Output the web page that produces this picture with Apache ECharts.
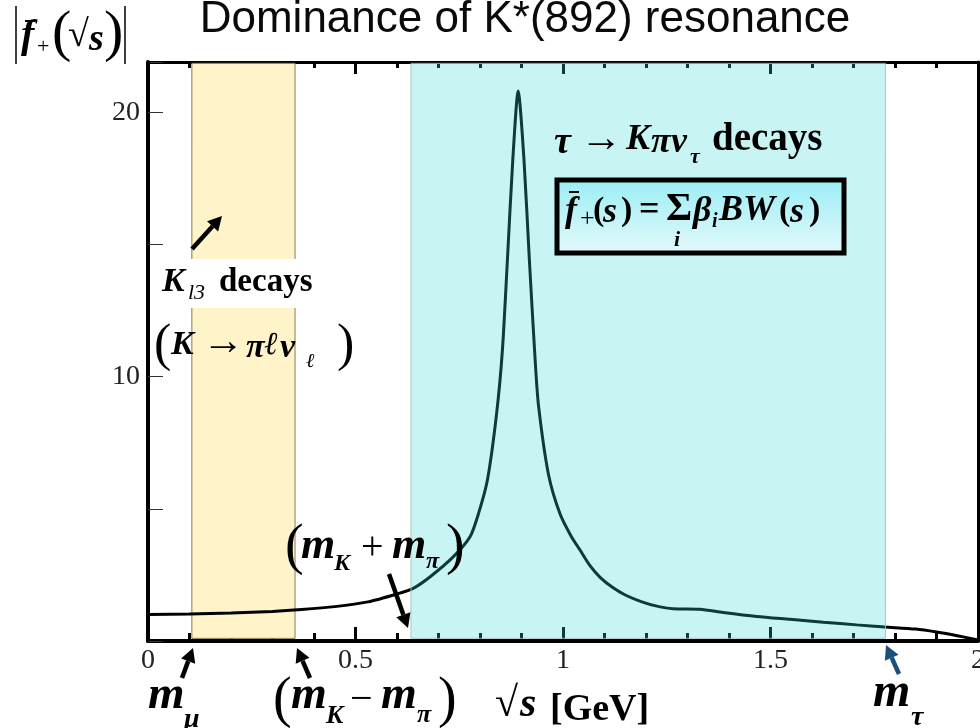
<!DOCTYPE html>
<html>
<head>
<meta charset="utf-8">
<script src="https://cdn.jsdelivr.net/npm/echarts@6/dist/echarts.min.js"></script>
<style>
  body { margin: 0; background: #fff; }
  #c { width: 980px; height: 728px; }
</style>
</head>
<body>
<div id="c"></div>
<script>
// sqrt(s) in GeV
const sqrtS = [0, 0.1, 0.2, 0.3, 0.37, 0.45, 0.53, 0.6, 0.639, 0.68, 0.736, 0.776, 0.796, 0.818, 0.84, 0.854, 0.866, 0.879, 0.892, 0.906, 0.919, 0.933, 0.941, 0.965, 0.993, 1.02, 1.041, 1.065, 1.09, 1.12, 1.15, 1.19, 1.226, 1.265, 1.33, 1.386, 1.467, 1.547, 1.627, 1.708, 1.776, 1.85, 1.9, 1.95, 2.0];
// |f+(sqrt s)|
const fPlus = [1.0, 1.02, 1.06, 1.12, 1.19, 1.3, 1.48, 1.78, 1.99, 2.43, 3.19, 3.94, 4.8, 6.1, 8.6, 11.0, 14.4, 18.2, 20.8, 18.2, 14.4, 10.6, 8.9, 6.3, 4.8, 3.95, 3.44, 2.85, 2.4, 2.02, 1.74, 1.48, 1.32, 1.22, 1.2, 1.08, 0.93, 0.82, 0.71, 0.61, 0.53, 0.45, 0.34, 0.2, 0.04];
const yLabels = [10, 20];
// shaded regions: [m_mu, mK - mpi] and [mK + mpi, m_tau]
const kl3Band = [0.1057, 0.3543];
const tauBand = [0.6336, 1.777];

const SERIF = '"Liberation Serif", "DejaVu Serif", serif';

function txt(s, x, y, size, o) {
  o = o || {};
  const font = (o.italic ? 'italic ' : '') + (o.bold === false ? '' : 'bold ') + size + 'px ' + (o.family || SERIF);
  return {
    type: 'text', z: 100,
    style: { text: s, x: x, y: y, font: font, fill: o.color || '#000',
      align: o.align || 'left', verticalAlign: 'middle',
      textAlign: o.align || 'left', textVerticalAlign: 'middle' }
  };
}
function seg(x1, y1, x2, y2, w, color) {
  return { type: 'line', z: 100, shape: { x1: x1, y1: y1, x2: x2, y2: y2 },
    style: { stroke: color || '#000', lineWidth: w } };
}
function arrow(x1, y1, x2, y2, color) {
  color = color || '#000';
  const a = Math.atan2(y2 - y1, x2 - x1);
  const L = 14, W = 7.5;
  const bx = x2 - L * Math.cos(a), by = y2 - L * Math.sin(a);
  const nx = -Math.sin(a), ny = Math.cos(a);
  return [
    seg(x1, y1, bx, by, 4.5, color),
    { type: 'polygon', z: 100, shape: { points: [[x2, y2], [bx + nx * W, by + ny * W], [bx - nx * W, by - ny * W]] },
      style: { fill: color } }
  ];
}

const graphics = [
  // title
  txt('Dominance of K*(892) resonance', 525, 20, 44, { bold: false, family: '"Liberation Sans", Arial, sans-serif', align: 'center', color: '#0a0a0a' }),
  // y axis name |f+(sqrt s)|
  seg(16, 6, 16, 64, 1.5), seg(125, 6, 125, 64, 1.5),
  txt('f', 21, 37, 40, { italic: true }),
  seg(25, 21, 35, 21, 2),
  txt('+', 37, 47, 22, { bold: false }),
  txt('(', 52, 35, 58, { bold: false }),
  txt('√', 68, 36, 38, { bold: false }),
  txt('s', 89, 40, 38, { italic: true }),
  txt(')', 104, 35, 58, { bold: false }),

  // tau decays
  txt('τ', 554, 143, 38, { italic: true }),
  txt('→', 580, 140, 42, { bold: false }),
  txt('K', 626, 140, 36, { italic: true }),
  txt('π', 651, 143, 36, { italic: true }),
  txt('ν', 671, 143, 36, { italic: true }),
  txt('τ', 690, 157, 22, { italic: true }),
  txt('decays', 712, 140, 39),
  // box with formula
  { type: 'rect', z: 99, shape: { x: 557, y: 180, width: 287, height: 73 },
    style: { fill: new echarts.graphic.LinearGradient(0, 0, 0, 1, [
      { offset: 0, color: '#98edf4' }, { offset: 1, color: '#e6fafb' }]), stroke: '#000', lineWidth: 5 } },
  txt('f', 565, 212, 36, { italic: true }),
  seg(569, 192, 579, 192, 2),
  txt('+', 580, 219, 26, { bold: false }),
  txt('(', 593, 211, 34),
  txt('s', 603, 213, 36, { italic: true }),
  txt(')', 621, 211, 34),
  txt('=', 639, 211, 36),
  txt('Σ', 666, 210, 40),
  txt('i', 674, 240, 22, { italic: true }),
  txt('β', 693, 212, 36, { italic: true }),
  txt('i', 712, 222, 20, { italic: true }),
  txt('BW', 719, 211, 36, { italic: true }),
  txt('(', 779, 211, 34),
  txt('s', 790, 213, 36, { italic: true }),
  txt(')', 809, 211, 34),

  // K_l3 decays
  { type: 'rect', z: 98, shape: { x: 158, y: 259, width: 162, height: 49 }, style: { fill: '#fff' } },
  txt('K', 162, 282, 34, { italic: true }),
  txt('l3', 188, 293, 22, { italic: true, bold: false }),
  txt('decays', 219, 282, 33),
  txt('(', 154, 346, 52, { bold: false }),
  txt('K', 171, 345, 34, { italic: true }),
  txt('→', 202, 343, 42, { bold: false }),
  txt('π', 246, 348, 34, { italic: true }),
  txt('ℓ', 264, 346, 32, { italic: true, bold: false }),
  txt('ν', 280, 348, 34, { italic: true }),
  txt('ℓ', 306, 362, 20, { italic: true, bold: false }),
  txt(')', 337, 346, 52, { bold: false }),

  // (mK + mpi)
  txt('(', 285, 548, 56, { bold: false }),
  txt('m', 301, 547, 44, { italic: true }),
  txt('K', 334, 564, 24, { italic: true }),
  txt('+', 361, 548, 40, { bold: false }),
  txt('m', 392, 547, 44, { italic: true }),
  txt('π', 426, 562, 24, { italic: true }),
  txt(')', 446, 548, 56, { bold: false }),

  // bottom labels
  txt('m', 148, 696, 47, { italic: true }),
  txt('μ', 184, 720, 28, { italic: true }),
  txt('(', 273, 701, 56, { bold: false }),
  txt('m', 291, 696, 46, { italic: true }),
  txt('K', 326, 716, 26, { italic: true }),
  txt('−', 350, 700, 40, { bold: false }),
  txt('m', 381, 696, 46, { italic: true }),
  txt('π', 417, 715, 26, { italic: true }),
  txt(')', 438, 701, 56, { bold: false }),
  txt('√', 495, 705, 42, { bold: false }),
  txt('s', 520, 705, 42, { italic: true }),
  txt('[GeV]', 550, 710, 38),
  txt('m', 873, 694, 48, { italic: true }),
  txt('τ', 911, 718, 28, { italic: true })
]
  .concat(arrow(192, 249, 222, 216))
  .concat(arrow(389, 574, 408, 628))
  .concat(arrow(182, 678, 193, 648))
  .concat(arrow(310, 678, 297, 648))
  .concat(arrow(899, 674, 886, 645, '#1b4f7e'));

const chart = echarts.init(document.getElementById('c'));
chart.setOption({
  animation: false,
  backgroundColor: '#fff',
  grid: { left: 148, right: 2, top: 62, bottom: 87, outerBoundsMode: 'none', containLabel: false },
  xAxis: [
    {
      type: 'value', min: 0, max: 2, interval: 0.5, position: 'bottom',
      axisLine: { show: true, onZero: false, lineStyle: { color: '#000', width: 4 } },
      axisTick: { show: true, inside: true, length: 14, lineStyle: { color: '#000', width: 3 } },
      minorTick: { show: true, splitNumber: 5, length: 8, lineStyle: { color: '#000', width: 3 } },
      axisLabel: { color: '#222', fontFamily: SERIF, fontSize: 28, margin: 6 },
      splitLine: { show: false }
    },
    {
      type: 'value', min: 0, max: 2, interval: 0.5, position: 'top',
      axisLine: { show: true, onZero: false, lineStyle: { color: '#000', width: 3 } },
      axisTick: { show: true, inside: true, length: 12, lineStyle: { color: '#000', width: 3 } },
      minorTick: { show: true, splitNumber: 5, length: 6, lineStyle: { color: '#000', width: 3 } },
      axisLabel: { show: false },
      splitLine: { show: false }
    }
  ],
  yAxis: [
    {
      type: 'value', min: 0, max: 21.9, interval: 5,
      axisLine: { show: true, onZero: false, lineStyle: { color: '#000', width: 4 } },
      axisTick: { show: true, inside: true, length: 15, lineStyle: { color: '#333', width: 1 } },
      axisLabel: { color: '#222', fontFamily: SERIF, fontSize: 28, margin: 8,
        formatter: v => (yLabels.indexOf(v) >= 0 ? String(v) : '') },
      splitLine: { show: false }
    },
    {
      type: 'value', min: 0, max: 21.9, position: 'right',
      axisLine: { show: true, onZero: false, lineStyle: { color: '#000', width: 3 } },
      axisTick: { show: false }, axisLabel: { show: false }, splitLine: { show: false }
    }
  ],
  series: [
    {
      type: 'line', data: [], z: 1, silent: true,
      markArea: {
        silent: true, z: 1,
        itemStyle: { color: '#fff4c9', borderColor: '#8c7b4e', borderWidth: 1 },
        data: [[{ xAxis: kl3Band[0], yAxis: 0.1 }, { xAxis: kl3Band[1], yAxis: 21.85 }]]
      }
    },
    {
      type: 'line', z: 3, silent: true,
      data: sqrtS.map((x, i) => [x, fPlus[i]]),
      showSymbol: false, smooth: 0.25,
      lineStyle: { color: '#000', width: 3 }
    },
    {
      type: 'line', data: [], z: 10, silent: true,
      markArea: {
        silent: true, z: 10,
        itemStyle: { color: 'rgba(50,215,215,0.27)', borderColor: 'rgba(170,190,190,0.9)', borderWidth: 1 },
        data: [[{ xAxis: tauBand[0], yAxis: 0.1 }, { xAxis: tauBand[1], yAxis: 21.85 }]]
      }
    }
  ],
  graphic: graphics
});
</script>
</body>
</html>
